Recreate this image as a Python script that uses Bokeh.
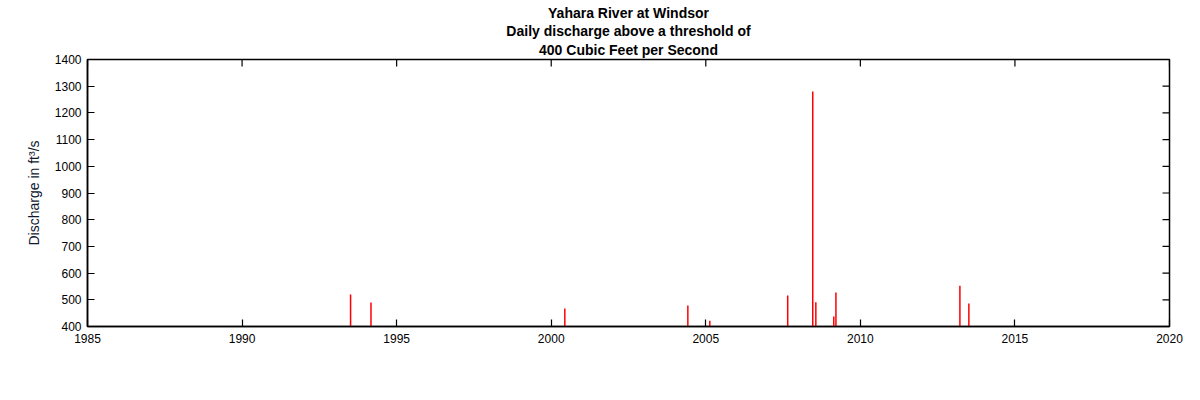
import numpy as np
from bokeh.plotting import figure
from bokeh.models import Title, FixedTicker
from bokeh.embed import file_html
from bokeh.resources import INLINE

# Dates (decimal year) of daily discharge above 400 ft3/s and the discharge
annees = [1993.51, 1994.17, 2000.44, 2004.42, 2005.13, 2007.65,
          2008.46, 2008.56, 2009.14, 2009.21, 2013.22, 2013.51]
debits = [520, 490, 467, 479, 422, 516,
          1280, 491, 437, 527, 553, 486]
seuil = 400

x_ticks = [1985, 1990, 1995, 2000, 2005, 2010, 2015, 2020]
y_ticks = [400, 500, 600, 700, 800, 900, 1000, 1100, 1200, 1300, 1400]

titres = ["Yahara River at Windsor",
          "Daily discharge above a threshold of",
          "400 Cubic Feet per Second"]

police = "Liberation Sans"

p = figure(width=1200, height=400, output_backend="svg", toolbar_location=None,
           x_range=(1985, 2020), y_range=(400, 1400),
           min_border_left=87, min_border_right=31, min_border_top=59, min_border_bottom=74)
p.title = None
p.grid.visible = False
p.outline_line_color = "black"
p.outline_line_width = 1.5
p.background_fill_color = "white"
p.border_fill_color = "white"

# barres verticales depuis le seuil
p.segment(x0=annees, y0=[seuil] * len(annees), x1=annees, y1=debits,
          line_color="red", line_width=1.5)

# axes du bas et de gauche
for ax, ticks in ((p.xaxis[0], x_ticks), (p.yaxis[0], y_ticks)):
    ax.ticker = FixedTicker(ticks=ticks)
    ax.major_tick_in = 7
    ax.major_tick_out = 0
    ax.minor_tick_line_color = None
    ax.axis_line_color = "black"
    ax.axis_line_width = 1.5
    ax.major_tick_line_width = 1.2
    ax.major_label_text_font = police
    ax.major_label_text_font_size = "12px"
    ax.major_label_text_color = "black"

p.xaxis.major_label_standoff = 7
p.yaxis.major_label_standoff = 6
p.yaxis.axis_label = "Discharge in ft³/s"
p.yaxis.axis_label_text_font = police
p.yaxis.axis_label_text_font_size = "14px"
p.yaxis.axis_label_text_font_style = "normal"
p.yaxis.axis_label_text_color = "#101830"
p.yaxis.axis_label_standoff = 10

# graduations miroirs en haut et a droite
p.ray(x=x_ticks, y=[1400] * len(x_ticks), angle=-np.pi / 2, length=7,
      length_units="screen", line_color="black", line_width=1.2)
p.ray(x=[2020] * len(y_ticks), y=y_ticks, angle=np.pi, length=7,
      length_units="screen", line_color="black", line_width=1.2)

# titre sur trois lignes (la premiere ajoutee est la plus proche du cadre)
for i, t in enumerate(reversed(titres)):
    p.add_layout(Title(text=t, align="center", text_font=police, text_font_size="14px",
                       text_font_style="bold", text_color="black",
                       standoff=3 if i == 0 else 0), "above")

open("out.html", "w").write(file_html(p, INLINE))
